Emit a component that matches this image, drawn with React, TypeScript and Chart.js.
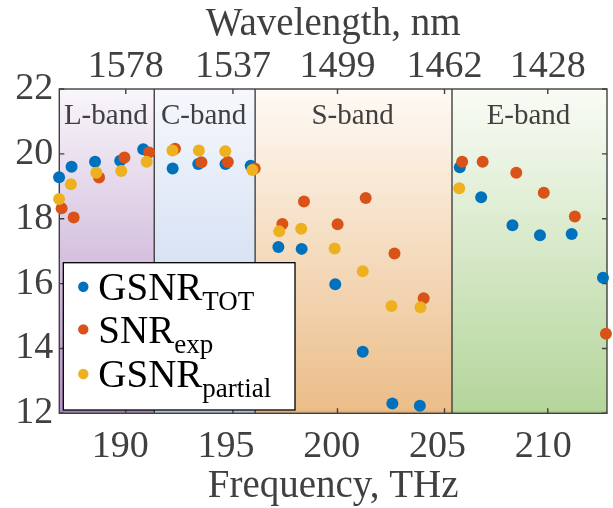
import { useEffect, useRef } from "react";
import { Chart, registerables } from "chart.js";

Chart.register(...registerables);

const C_NM_THZ = 299792.458;

// Data (frequency in THz, value in dB)
const gsnrTotFreq = [187.11, 187.7, 188.81, 190.0, 191.09, 192.48, 193.69, 194.98, 196.17, 197.48, 198.58, 200.17, 201.47, 202.87, 204.17, 206.06, 207.07, 208.55, 209.85, 211.35, 212.83];
const gsnrTotValues = [19.28, 19.6, 19.76, 19.79, 20.14, 19.55, 19.69, 19.69, 19.63, 17.13, 17.07, 15.98, 13.9, 12.3, 12.23, 19.59, 18.66, 17.8, 17.49, 17.53, 16.18];

const snrExpFreq = [187.23, 187.8, 189.0, 190.2, 191.37, 192.59, 193.84, 195.09, 196.36, 197.67, 198.69, 200.28, 201.61, 202.97, 204.35, 206.17, 207.14, 208.73, 210.03, 211.5, 212.97];
const snrExpValues = [18.32, 18.04, 19.27, 19.89, 20.04, 20.16, 19.74, 19.75, 19.55, 17.84, 18.53, 17.83, 18.64, 16.93, 15.55, 19.76, 19.76, 19.42, 18.8, 18.07, 14.45];

const gsnrPartialFreq = [187.11, 187.67, 188.87, 190.05, 191.25, 192.47, 193.72, 194.97, 196.25, 197.52, 198.56, 200.14, 201.47, 202.83, 204.2, 206.03];
const gsnrPartialValues = [18.61, 19.06, 19.42, 19.47, 19.76, 20.1, 20.1, 20.08, 19.5, 17.61, 17.69, 17.08, 16.38, 15.31, 15.27, 18.94];

const freqTicks = [190, 195, 200, 205, 210];
const wavelengthTicks = [1578, 1537, 1499, 1462, 1428];
const yTicks = [12, 14, 16, 18, 20, 22];

const bandNames = ["L-band", "C-band", "S-band", "E-band"];
const bandEdges = [187.12, 191.61, 196.38, 205.69, 213.02];

const legendMain = ["GSNR", "SNR", "GSNR"];
const legendSub = ["TOT", "exp", "partial"];

// Styles
const FONT = '"Liberation Serif", "Times New Roman", serif';
const TEXT = "#404040";
const LINE = "#404040";
const seriesColors = ["#0072BD", "#D95319", "#EDB120"];
const bandTop = ["#f9f6fa", "#f6f8fc", "#fefaf5", "#f9fcf6"];
const bandBottom = ["#b590c7", "#bdd0ee", "#ebbd88", "#b4d59a"];
const bandEdgeColor = ["#a47fba", "#a6c1e7", "#e3b27a", "#a8cd8c"];

const toPts = (xs: number[], ys: number[]) => xs.map((x, i) => ({ x, y: ys[i] }));

const bandsPlugin = {
  id: "bands",
  beforeDatasetsDraw(chart: any) {
    const { ctx, chartArea } = chart;
    const xs = chart.scales.x;
    const x2 = chart.scales.x2;
    const ys = chart.scales.y;
    const top = chartArea.top;
    const bottom = chartArea.bottom;
    ctx.save();
    for (let i = 0; i < bandNames.length; i++) {
      const a = xs.getPixelForValue(bandEdges[i]);
      const b = xs.getPixelForValue(bandEdges[i + 1]);
      const g = ctx.createLinearGradient(0, top, 0, bottom);
      g.addColorStop(0, bandTop[i]);
      g.addColorStop(1, bandBottom[i]);
      ctx.fillStyle = g;
      ctx.fillRect(a, top, b - a, bottom - top);
      ctx.strokeStyle = bandEdgeColor[i];
      ctx.lineWidth = 2;
      ctx.beginPath();
      ctx.moveTo(a, bottom - 1.5);
      ctx.lineTo(b, bottom - 1.5);
      ctx.stroke();
      ctx.fillStyle = TEXT;
      ctx.font = `29px ${FONT}`;
      ctx.textAlign = "center";
      ctx.textBaseline = "middle";
      ctx.fillText(bandNames[i], (a + b) / 2 - 1, 116);
    }
    // band boundaries
    ctx.strokeStyle = LINE;
    ctx.lineWidth = 1.4;
    for (let i = 1; i < bandEdges.length - 1; i++) {
      const p = xs.getPixelForValue(bandEdges[i]);
      ctx.beginPath();
      ctx.moveTo(p, top);
      ctx.lineTo(p, bottom);
      ctx.stroke();
    }
    // frame
    ctx.lineWidth = 1.4;
    ctx.strokeRect(chartArea.left, top, chartArea.right - chartArea.left, bottom - top);
    // inside ticks
    const tl = 5;
    ctx.beginPath();
    for (const w of wavelengthTicks) {
      const p = x2.getPixelForValue(C_NM_THZ / w);
      ctx.moveTo(p, top);
      ctx.lineTo(p, top + tl);
      ctx.moveTo(p, bottom);
      ctx.lineTo(p, bottom - tl);
    }
    for (const v of yTicks) {
      const p = ys.getPixelForValue(v);
      ctx.moveTo(chartArea.left, p);
      ctx.lineTo(chartArea.left + tl, p);
      ctx.moveTo(chartArea.right, p);
      ctx.lineTo(chartArea.right - tl, p);
    }
    ctx.stroke();
    ctx.restore();
  },
};

const legendPlugin = {
  id: "customLegend",
  afterDatasetsDraw(chart: any) {
    const { ctx } = chart;
    ctx.save();
    const bx = 63.3, by = 262.7, bw = 231.7, bh = 147.3;
    ctx.fillStyle = "#ffffff";
    ctx.fillRect(bx, by, bw, bh);
    ctx.strokeStyle = "#000000";
    ctx.lineWidth = 1.3;
    ctx.strokeRect(bx, by, bw, bh);
    const baselines = [300, 342.7, 387.3];
    for (let i = 0; i < legendMain.length; i++) {
      const base = baselines[i];
      ctx.fillStyle = seriesColors[i];
      ctx.beginPath();
      ctx.arc(83.3, base - 13.3, 5.2, 0, Math.PI * 2);
      ctx.fill();
      ctx.fillStyle = "#000000";
      ctx.textAlign = "left";
      ctx.textBaseline = "alphabetic";
      ctx.font = `39px ${FONT}`;
      ctx.fillText(legendMain[i], 98.3, base);
      const w = ctx.measureText(legendMain[i]).width;
      ctx.font = `27px ${FONT}`;
      ctx.fillText(legendSub[i], 98.3 + w, base + 10);
    }
    ctx.restore();
  },
};

export default function App() {
  const ref = useRef<HTMLCanvasElement | null>(null);
  useEffect(() => {
    if (!ref.current) return;
    const tickFont = { family: FONT, size: 38, lineHeight: 1 };
    const titleFont = { family: FONT, size: 39, lineHeight: 1 };
    const chart = new Chart(ref.current, {
      type: "scatter",
      data: {
        datasets: [
          {
            label: "GSNR_TOT",
            data: toPts(gsnrTotFreq, gsnrTotValues),
            backgroundColor: seriesColors[0],
            borderWidth: 0,
            pointRadius: 6,
            pointHoverRadius: 6,
            order: 3,
            clip: false,
          },
          {
            label: "SNR_exp",
            data: toPts(snrExpFreq, snrExpValues),
            backgroundColor: seriesColors[1],
            borderWidth: 0,
            pointRadius: 6,
            pointHoverRadius: 6,
            order: 2,
            clip: false,
          },
          {
            label: "GSNR_partial",
            data: toPts(gsnrPartialFreq, gsnrPartialValues),
            backgroundColor: seriesColors[2],
            borderWidth: 0,
            pointRadius: 6,
            pointHoverRadius: 6,
            order: 1,
            clip: false,
          },
        ] as any,
      },
      options: {
        animation: false,
        responsive: false,
        events: [],
        layout: { padding: { left: 0, right: 1.3, top: 0, bottom: 0 } },
        plugins: { legend: { display: false }, tooltip: { enabled: false } },
        scales: {
          x: {
            type: "linear",
            position: "bottom",
            min: 187.12,
            max: 213.02,
            afterBuildTicks: (s: any) => {
              s.ticks = freqTicks.map((v) => ({ value: v }));
            },
            afterFit: (s: any) => {
              s.height = 94.7;
            },
            grid: { display: false, drawTicks: false },
            border: { display: false },
            ticks: {
              font: tickFont,
              color: TEXT,
              padding: 15,
              maxRotation: 0,
              autoSkip: false,
              callback: (v: any) => String(v),
            },
            title: {
              display: true,
              text: "Frequency, THz",
              font: titleFont,
              color: TEXT,
              padding: { top: 0, bottom: 2 },
            },
          },
          x2: {
            type: "linear",
            position: "top",
            min: 186.84,
            max: 212.74,
            afterBuildTicks: (s: any) => {
              s.ticks = wavelengthTicks.map((w) => ({ value: C_NM_THZ / w }));
            },
            afterFit: (s: any) => {
              s.height = 89;
            },
            grid: { display: false, drawTicks: false },
            border: { display: false },
            ticks: {
              font: tickFont,
              color: TEXT,
              padding: 2.5,
              maxRotation: 0,
              autoSkip: false,
              callback: (_v: any, i: number) => String(wavelengthTicks[i]),
            },
            title: {
              display: true,
              text: "Wavelength, nm",
              font: titleFont,
              color: TEXT,
              padding: { top: 5.5, bottom: 0 },
            },
          },
          y: {
            type: "linear",
            min: 12,
            max: 22,
            afterBuildTicks: (s: any) => {
              s.ticks = yTicks.map((v) => ({ value: v }));
            },
            afterFit: (s: any) => {
              s.width = 59.3;
            },
            grid: { display: false, drawTicks: false },
            border: { display: false },
            ticks: { font: tickFont, color: TEXT, padding: 6, autoSkip: false },
          },
        } as any,
      },
      plugins: [bandsPlugin, legendPlugin],
    });
    return () => chart.destroy();
  }, []);
  return (
    <div style={{ position: "fixed", left: 0, top: 0, width: 613, height: 508, background: "#ffffff" }}>
      <canvas ref={ref} width={613} height={508} style={{ display: "block" }} />
    </div>
  );
}
